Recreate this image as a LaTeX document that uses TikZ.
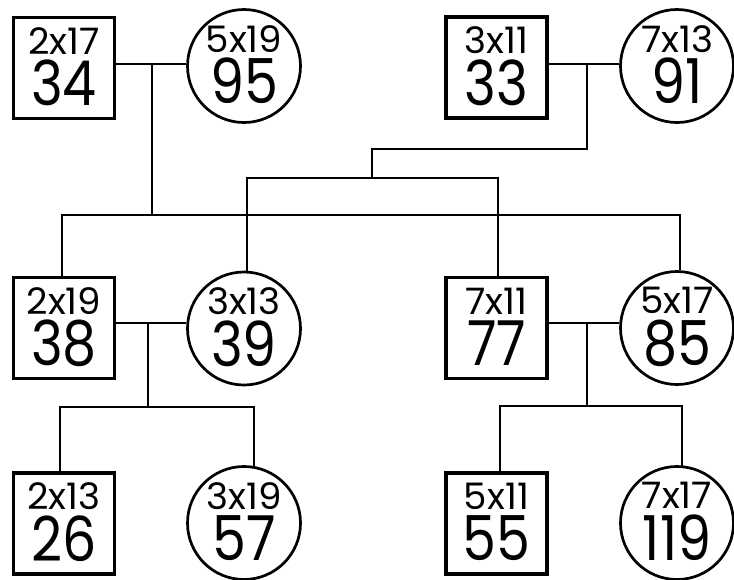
\documentclass[tikz,border=0pt]{standalone}
\usepackage{fontspec}
\setmainfont{Poppins}
\newfontfamily\bigfont[FakeStretch=0.87]{Poppins}
\newfontfamily\smallfont[FakeStretch=1.02]{Poppins}
\begin{document}
\begin{tikzpicture}[x=1pt,y=-1pt,
  sq/.style={draw, line width=3.3pt, minimum size=101pt, inner sep=0pt},
  rd/.style={draw, circle, line width=2.7pt, minimum size=113pt, inner sep=0pt},
  wire/.style={line width=2pt},
  every node/.style={font=\fontsize{10}{10}\selectfont}]
\newcommand\twoline[2]{\begin{tabular}{@{}c@{}}\smallfont\fontsize{36.5}{36}\selectfont #1\\[3pt]\bigfont\fontsize{62}{62}\selectfont #2\end{tabular}}
\useasboundingbox (0,0) rectangle (734,579);
% row 1
\node[sq] (s34) at (64,68) {\twoline{2x17}{34}};
\node[rd] (c95) at (244,66) {\twoline{5x19}{95}};
\node[sq] (s33) at (496.5,67.5) {\twoline{3x11}{33}};
\node[rd] (c91) at (677,66) {\twoline{7x13}{91}};
% row 2
\node[sq] (s38) at (64,328) {\twoline{2x19}{38}};
\node[rd] (c39) at (244,328.5) {\twoline{3x13}{39}};
\node[sq] (s77) at (496.5,328) {\twoline{7x11}{77}};
\node[rd] (c85) at (677,328) {\twoline{5x17}{85}};
% row 3
\node[sq] (s26) at (64,523.5) {\twoline{2x13}{26}};
\node[rd] (c57) at (244,523) {\twoline{3x19}{57}};
\node[sq] (s55) at (496.5,523.5) {\twoline{5x11}{55}};
\node[rd] (c119) at (677,523) {\twoline{7x17}{119}};
% junctions
\coordinate (ja) at (152,64);
\coordinate (jab) at (152,215);
\coordinate (jb) at (587,64);
\coordinate (jb1) at (372,149);
\coordinate (jb2) at (372,178);
\coordinate (jc) at (148,323);
\coordinate (jc1) at (148,407);
\coordinate (jd) at (587,323);
\coordinate (jd1) at (587,406);
% couple 34-95
\draw[wire] (s34.east |- ja) -- (c95.west |- ja);
\draw[wire] ([yshift=1pt]ja) -- (jab);
\draw[wire] (s38.north -| 62,0) |- (jab) -| (c85.north -| 680,0);
% couple 33-91
\draw[wire] (s33.east |- jb) -- (c91.west |- jb);
\draw[wire] (jb) |- (jb1) -- (jb2);
\draw[wire] (c39.north -| 247,0) |- (jb2) -| (s77.north -| 498,0);
% couple 38-39
\draw[wire] (s38.east |- jc) -- (c39.west |- jc);
\draw[wire] (jc) -- ([yshift=-1pt]jc1);
\draw[wire] (s26.north -| 60,0) |- (jc1) -| (254,466);
% couple 77-85
\draw[wire] (s77.east |- jd) -- (c85.west |- jd);
\draw[wire] (jd) -- ([yshift=-1pt]jd1);
\draw[wire] (s55.north -| 500,0) |- (jd1) -| (682,466);
\end{tikzpicture}
\end{document}
